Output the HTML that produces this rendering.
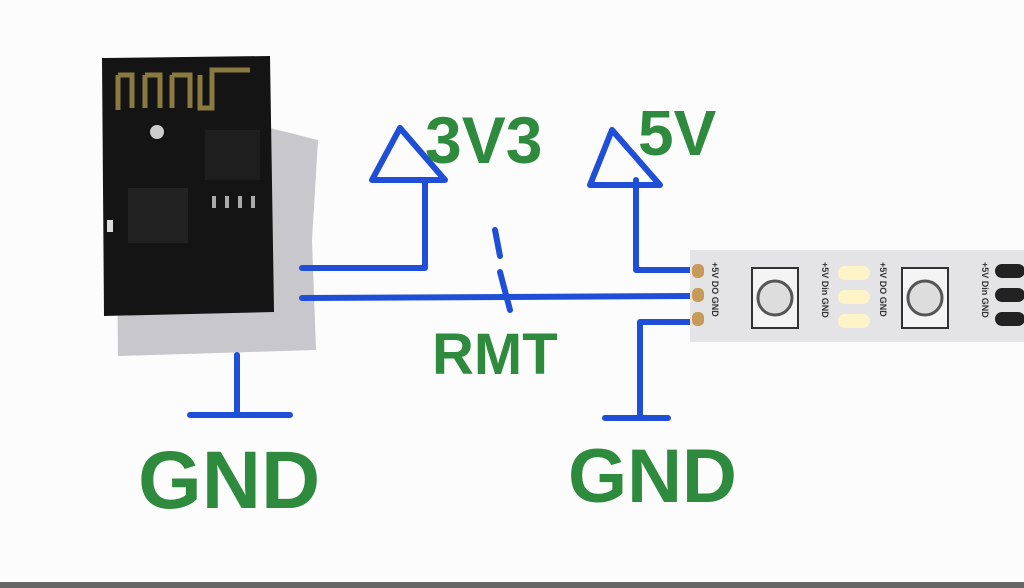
<!DOCTYPE html>
<html><head><meta charset="utf-8"><style>
html,body{margin:0;padding:0;background:#fdfdfd;}
svg{display:block}
text{font-family:"Liberation Sans",sans-serif;fill:#2e8a3c;font-weight:bold}
</style></head><body>
<svg width="1024" height="588" viewBox="0 0 1024 588" xmlns="http://www.w3.org/2000/svg">
<rect width="1024" height="588" fill="#fcfcfc"/>
<rect x="0" y="582" width="1024" height="6" fill="#666"/>
<!-- foam -->
<path d="M116 138 L270 128 L318 140 L312 240 L316 350 L118 356 Z" fill="#c8c8cc"/>
<!-- ESP board -->
<path d="M102 58 L270 56 L274 312 L104 316 Z" fill="#141414"/>
<path d="M118 75 L118 110 M118 75 L132 75 L132 108 M145 75 L145 108 M145 75 L160 75 L160 108 M172 75 L172 108 M172 75 L190 75 L190 108 M200 75 L200 108 L212 108 L212 70 L250 70" stroke="#8a7a40" stroke-width="5" fill="none"/>
<circle cx="157" cy="132" r="7" fill="#ccc"/>
<rect x="128" y="188" width="60" height="55" fill="#222"/>
<rect x="205" y="130" width="55" height="50" fill="#1e1e1e"/>
<g fill="#aaa"><rect x="212" y="196" width="4" height="12"/><rect x="225" y="196" width="4" height="12"/><rect x="238" y="196" width="4" height="12"/><rect x="251" y="196" width="4" height="12"/></g>
<rect x="107" y="220" width="6" height="12" fill="#ddd"/>
<!-- blue wires -->
<g stroke="#1f4fd6" stroke-width="6" fill="none" stroke-linecap="round" stroke-linejoin="round">
<path d="M302 268 L425 268 L425 180"/>
<path d="M372 180 L445 180 L400 128 Z"/>
<path d="M302 298 L695 296"/>
<path d="M495 230 L500 256 M500 272 L510 310"/>
<path d="M237 355 L237 415 M190 415 L290 415"/>
<path d="M636 180 L636 270 L695 270"/>
<path d="M590 185 L660 185 L612 130 Z"/>
<path d="M695 322 L640 322 L640 418 M605 418 L668 418"/>
</g>
<!-- LED strip -->
<rect x="690" y="250" width="334" height="92" fill="#e4e4e6"/>
<g fill="#c89a5a"><rect x="692" y="264" width="12" height="14" rx="5"/><rect x="692" y="288" width="12" height="14" rx="5"/><rect x="692" y="312" width="12" height="14" rx="5"/></g>
<rect x="752" y="268" width="46" height="60" fill="#f4f4f4" stroke="#333" stroke-width="2"/>
<circle cx="775" cy="298" r="17" fill="#ddd" stroke="#555" stroke-width="3"/>
<rect x="902" y="268" width="46" height="60" fill="#f4f4f4" stroke="#333" stroke-width="2"/>
<circle cx="925" cy="298" r="17" fill="#ddd" stroke="#555" stroke-width="3"/>
<g fill="#fff3c8"><rect x="838" y="266" width="32" height="14" rx="7"/><rect x="838" y="290" width="32" height="14" rx="7"/><rect x="838" y="314" width="32" height="14" rx="7"/></g>
<g fill="#222"><rect x="995" y="264" width="30" height="14" rx="7"/><rect x="995" y="288" width="30" height="14" rx="7"/><rect x="995" y="312" width="30" height="14" rx="7"/></g>
<g font-size="9" fill="#333" style="font-weight:bold">
<text x="712" y="262" transform="rotate(90 712 262)" style="fill:#333">+5V DO GND</text>
<text x="822" y="262" transform="rotate(90 822 262)" style="fill:#333">+5V Din GND</text>
<text x="880" y="262" transform="rotate(90 880 262)" style="fill:#333">+5V DO GND</text>
<text x="982" y="262" transform="rotate(90 982 262)" style="fill:#333">+5V Din GND</text>
</g>
<!-- labels -->
<text x="425" y="163" font-size="66">3V3</text>
<text x="638" y="155" font-size="64">5V</text>
<text x="432" y="374" font-size="58">RMT</text>
<text x="138" y="508" font-size="82">GND</text>
<text x="568" y="502" font-size="76">GND</text>
</svg>
</body></html>
